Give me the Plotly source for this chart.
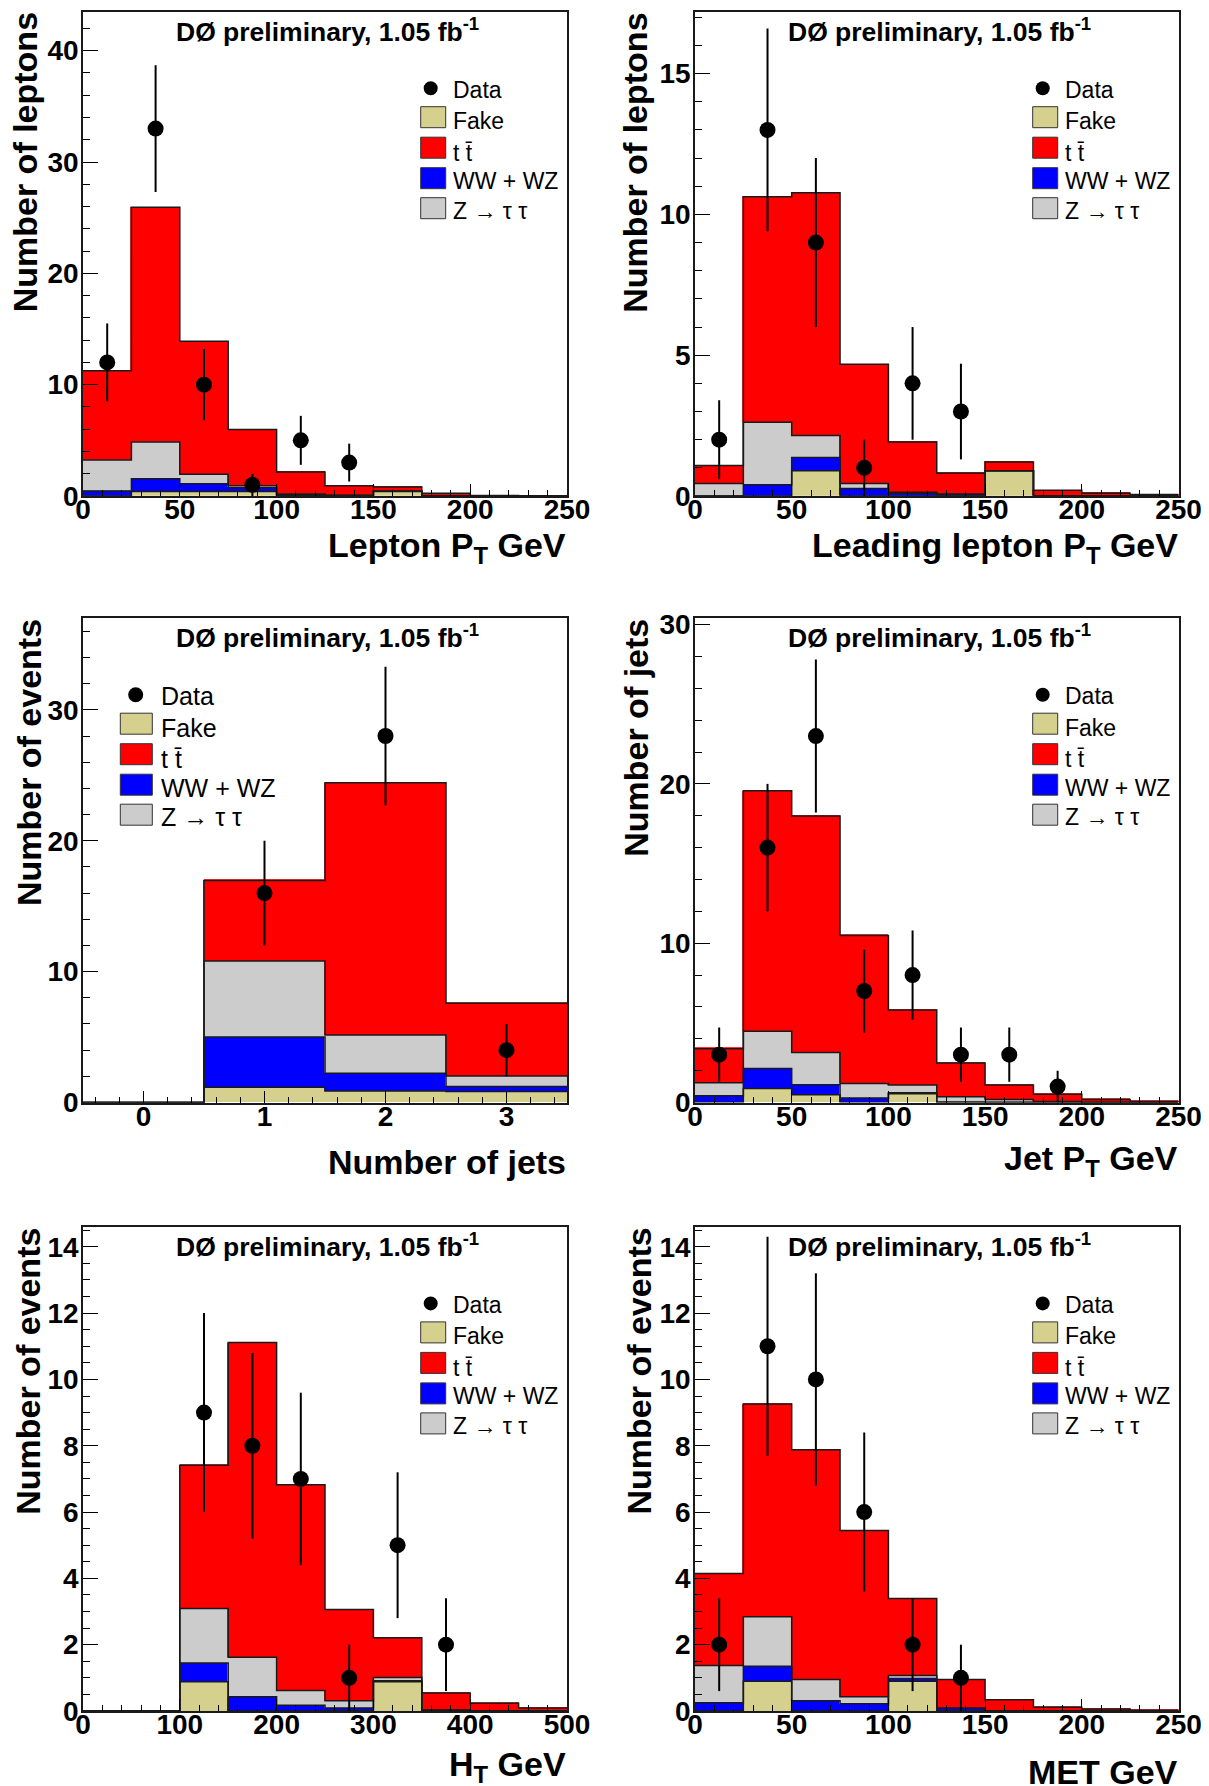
import numpy as np
import plotly.graph_objects as go

# ---------------- data ----------------
# Panel 1: lepton pT (25 GeV bins)
lep_edges = [0, 25, 50, 75, 100, 125, 150, 175, 200, 225, 250]
lep_fake  = [0.00, 0.41, 0.40, 0.40, 0.02, 0.00, 0.40, 0.00, 0.00, 0.00]
lep_ww    = [0.44, 1.13, 0.69, 0.35, 0.10, 0.05, 0.02, 0.01, 0.00, 0.00]
lep_ztt   = [2.80, 3.31, 0.86, 0.17, 0.05, 0.02, 0.02, 0.01, 0.00, 0.00]
lep_ttbar = [8.02, 21.09, 11.95, 5.05, 1.98, 0.85, 0.36, 0.22, 0.05, 0.02]
lep_data  = [12, 33, 10, 1, 5, 3, 0, 0, 0, 0]
lep_err   = [3.5, 5.7, 3.2, 1.0, 2.2, 1.7, 0, 0, 0, 0]

# Panel 2: leading lepton pT
lead_edges = [0, 25, 50, 75, 100, 125, 150, 175, 200, 225, 250]
lead_fake  = [0.00, 0.00, 0.90, 0.00, 0.00, 0.00, 0.90, 0.00, 0.00, 0.00]
lead_ww    = [0.00, 0.40, 0.47, 0.27, 0.10, 0.05, 0.00, 0.00, 0.00, 0.00]
lead_ztt   = [0.44, 2.22, 0.78, 0.17, 0.03, 0.02, 0.00, 0.00, 0.00, 0.00]
lead_ttbar = [0.64, 8.01, 8.62, 4.24, 1.79, 0.74, 0.31, 0.20, 0.10, 0.05]
lead_data  = [2, 13, 9, 1, 4, 3, 0, 0, 0, 0]
lead_err   = [1.4, 3.6, 3.0, 1.0, 2.0, 1.7, 0, 0, 0, 0]

# Panel 3: number of jets
nj_edges = [-0.5, 0.5, 1.5, 2.5, 3.5]
nj_fake  = [0.00, 1.16, 0.87, 0.84]
nj_ww    = [0.00, 3.85, 1.36, 0.38]
nj_ztt   = [0.00, 5.80, 2.93, 0.81]
nj_ttbar = [0.00, 6.15, 19.27, 5.56]
nj_data  = [0, 16, 28, 4]
nj_err   = [0, 4.0, 5.3, 2.0]

# Panel 4: jet pT
jet_edges = [0, 25, 50, 75, 100, 125, 150, 175, 200, 225, 250]
jet_fake  = [0.00, 0.88, 0.48, 0.00, 0.55, 0.00, 0.00, 0.00, 0.00, 0.00]
jet_ww    = [0.43, 1.26, 0.64, 0.29, 0.06, 0.03, 0.02, 0.01, 0.00, 0.00]
jet_ztt   = [0.81, 2.34, 2.02, 0.90, 0.49, 0.33, 0.17, 0.05, 0.00, 0.00]
jet_ttbar = [2.14, 15.09, 14.84, 9.29, 4.71, 2.12, 0.91, 0.46, 0.19, 0.07]
jet_data  = [3, 16, 23, 7, 8, 3, 3, 1, 0, 0]
jet_err   = [1.7, 4.0, 4.8, 2.6, 2.8, 1.7, 1.7, 1.0, 0, 0]

# Panel 5: HT (50 GeV bins)
ht_edges = [0, 50, 100, 150, 200, 250, 300, 350, 400, 450, 500]
ht_fake  = [0.00, 0.00, 0.88, 0.00, 0.00, 0.00, 0.88, 0.00, 0.00, 0.00]
ht_ww    = [0.00, 0.00, 0.57, 0.43, 0.17, 0.09, 0.03, 0.02, 0.00, 0.00]
ht_ztt   = [0.00, 0.00, 1.64, 1.19, 0.45, 0.22, 0.10, 0.01, 0.00, 0.00]
ht_ttbar = [0.00, 0.00, 4.32, 9.49, 6.20, 2.75, 1.20, 0.51, 0.23, 0.09]
ht_data  = [0, 0, 9, 8, 7, 1, 5, 2, 0, 0]
ht_err   = [0, 0, 3.0, 2.8, 2.6, 1.0, 2.2, 1.4, 0, 0]

# Panel 6: MET
met_edges = [0, 25, 50, 75, 100, 125, 150, 175, 200, 225, 250]
met_fake  = [0.00, 0.90, 0.00, 0.00, 0.90, 0.00, 0.00, 0.00, 0.00, 0.00]
met_ww    = [0.25, 0.45, 0.31, 0.22, 0.08, 0.08, 0.00, 0.00, 0.00, 0.00]
met_ztt   = [1.12, 1.49, 0.64, 0.21, 0.09, 0.00, 0.00, 0.00, 0.00, 0.00]
met_ttbar = [2.78, 6.42, 6.93, 5.01, 2.32, 0.87, 0.34, 0.11, 0.06, 0.02]
met_data  = [2, 11, 10, 6, 2, 1, 0, 0, 0, 0]
met_err   = [1.4, 3.3, 3.2, 2.4, 1.4, 1.0, 0, 0, 0, 0]

legend_labels = ["Data", "Fake", "t t\u0304", "WW + WZ", "Z \u2192 \u03c4 \u03c4"]
header_text = "D\u00d8 preliminary, 1.05 fb<sup>-1</sup>"

# ---------------- styling / layout ----------------
W, H = 1209, 1786          # page (screenshot) size
OFF = 8                    # default body margin of the html page
FW, FH = W - OFF, H - OFF  # figure size
FONT = "Liberation Sans"
COL_FAKE, COL_WW, COL_ZTT, COL_TT = "#d6d08e", "#0000ff", "#cccccc", "#ff0000"
STACK_COLORS = [COL_FAKE, COL_WW, COL_ZTT, COL_TT]        # bottom -> top
LEGEND_COLORS = [None, COL_FAKE, COL_TT, COL_WW, COL_ZTT]  # legend order
OUTLINE = "#1a1a1a"


def fx(p):
    """page pixel x -> paper fraction"""
    return (p - OFF) / FW


def fy(p):
    """page pixel y -> paper fraction"""
    return 1 - (p - OFF) / FH


panels = [
    dict(edges=lep_edges, comps=[lep_fake, lep_ww, lep_ztt, lep_ttbar], data=lep_data, err=lep_err,
         frame=(83, 567, 11.7, 496), xr=[0, 250], yr=[0, 43.5], xd=50, xm=10, yd=10, ym=2,
         xt="Lepton P<sub>T</sub> GeV", yt="Number of leptons", xcap=531, ycap=11.0, leg="right"),
    dict(edges=lead_edges, comps=[lead_fake, lead_ww, lead_ztt, lead_ttbar], data=lead_data, err=lead_err,
         frame=(695, 1178.5, 11.7, 496), xr=[0, 250], yr=[0, 17.2], xd=50, xm=10, yd=5, ym=1,
         xt="Leading lepton P<sub>T</sub> GeV", yt="Number of leptons", xcap=531, ycap=621.5, leg="right"),
    dict(edges=nj_edges, comps=[nj_fake, nj_ww, nj_ztt, nj_ttbar], data=nj_data, err=nj_err,
         frame=(83, 567, 618.2, 1102.5), xr=[-0.5, 3.5], yr=[0, 37.0], xd=1, xm=0.2, yd=10, ym=2,
         xt="Number of jets", yt="Number of events", xcap=1148, ycap=14.8, leg="left"),
    dict(edges=jet_edges, comps=[jet_fake, jet_ww, jet_ztt, jet_ttbar], data=jet_data, err=jet_err,
         frame=(695, 1178.5, 618.2, 1102.5), xr=[0, 250], yr=[0, 30.4], xd=50, xm=10, yd=10, ym=2,
         xt="Jet P<sub>T</sub> GeV", yt="Number of jets", xcap=1144.5, ycap=623, leg="right"),
    dict(edges=ht_edges, comps=[ht_fake, ht_ww, ht_ztt, ht_ttbar], data=ht_data, err=ht_err,
         frame=(83, 567, 1226.9, 1711), xr=[0, 500], yr=[0, 14.6], xd=100, xm=20, yd=2, ym=0.5,
         xt="H<sub>T</sub> GeV", yt="Number of events", xcap=1750.5, ycap=14.8, leg="right"),
    dict(edges=met_edges, comps=[met_fake, met_ww, met_ztt, met_ttbar], data=met_data, err=met_err,
         frame=(695, 1178.5, 1226.9, 1711), xr=[0, 250], yr=[0, 14.6], xd=50, xm=10, yd=2, ym=0.5,
         xt="MET GeV", yt="Number of events", xcap=1758, ycap=625.5, leg="right"),
]

fig = go.Figure()
annotations = []
shapes = []

tickfont = dict(family=FONT, size=28, color="black", weight="bold")

for i, p in enumerate(panels):
    n = i + 1
    xa = "x" if n == 1 else f"x{n}"
    ya = "y" if n == 1 else f"y{n}"
    x0, x1, y0, y1 = p["frame"]

    edges = np.array(p["edges"], float)
    centers = (edges[:-1] + edges[1:]) / 2
    widths = np.diff(edges)
    comps = [np.array(c, float) for c in p["comps"]]

    # stacked fills
    for comp, col in zip(comps, STACK_COLORS):
        lw = np.where(comp > 0, 0.8, 0.0)
        fig.add_trace(go.Bar(x=centers, y=comp, width=widths, xaxis=xa, yaxis=ya,
                             marker=dict(color=col, line=dict(color=col, width=lw)),
                             hoverinfo="skip", showlegend=False))
    # step outlines of the cumulative histograms
    cum = np.cumsum(np.vstack(comps), axis=0)
    for level in cum:
        fig.add_trace(go.Scatter(x=edges, y=np.append(level, level[-1]), mode="lines",
                                 line=dict(shape="hv", color=OUTLINE, width=1.5),
                                 xaxis=xa, yaxis=ya, hoverinfo="skip", showlegend=False))
    # data points
    data = np.array(p["data"], float)
    err = np.array(p["err"], float)
    m = data > 0
    fig.add_trace(go.Scatter(x=centers[m], y=data[m], mode="markers", xaxis=xa, yaxis=ya,
                             marker=dict(size=16, color="black"),
                             error_y=dict(type="data", array=err[m], visible=True,
                                          thickness=2, width=0, color="black"),
                             showlegend=False))

    common = dict(showline=True, mirror=True, linecolor=OUTLINE, linewidth=1.5,
                  showgrid=False, zeroline=False, ticks="inside", tickcolor="black",
                  tickwidth=1, tickfont=tickfont, automargin=False)
    xkey = "xaxis" if n == 1 else f"xaxis{n}"
    ykey = "yaxis" if n == 1 else f"yaxis{n}"
    fig.update_layout(**{
        xkey: dict(common, domain=[fx(x0), fx(x1)], range=p["xr"], anchor=ya,
                   tick0=0, dtick=p["xd"], ticklen=12, ticklabelstandoff=-12,
                   minor=dict(ticks="inside", ticklen=6, dtick=p["xm"], tick0=0,
                              tickcolor="black", tickwidth=1)),
        ykey: dict(common, domain=[fy(y1), fy(y0)], range=p["yr"], anchor=xa,
                   tick0=0, dtick=p["yd"], ticklen=15, ticklabelstandoff=-3,
                   minor=dict(ticks="inside", ticklen=7.5, dtick=p["ym"], tick0=0,
                              tickcolor="black", tickwidth=1)),
    })

    # header
    annotations.append(dict(xref="paper", yref="paper", x=fx(x0 + 91), y=fy(y0 + 37.2),
                            xanchor="left", yanchor="bottom", showarrow=False,
                            text=f"<b>{header_text}</b>",
                            font=dict(family=FONT, size=26.5, color="black")))
    # x title
    annotations.append(dict(xref="paper", yref="paper", x=fx(x1 + 1), y=fy(p["xcap"] - 7.4),
                            xanchor="right", yanchor="top", showarrow=False,
                            text=f"<b>{p['xt']}</b>",
                            font=dict(family=FONT, size=34, color="black")))
    # y title
    annotations.append(dict(xref="paper", yref="paper", x=fx(p["ycap"] - 7.4), y=fy(y0 - 1),
                            xanchor="left", yanchor="top", textangle=-90, showarrow=False,
                            text=f"<b>{p['yt']}</b>",
                            font=dict(family=FONT, size=34, color="black")))

    # legend (drawn by hand to mimic the ROOT TLegend)
    if p["leg"] == "right":
        bl, br, dxc, tl, lfs, r = x0 + 337.7, x0 + 362.7, x0 + 347.7, x0 + 368.7, 23, 7
    else:
        bl, br, dxc, tl, lfs, r = x0 + 37.3, x0 + 69.3, x0 + 52.7, x0 + 77, 25, 7.5
    rows = [76.5, 105.5, 136, 166.5, 196.5]
    toff = [1.5, 4, 5, 3, 2.5]
    for k, (lab, rc, to) in enumerate(zip(legend_labels, rows, toff)):
        cy = y0 + rc
        if k == 0:
            shapes.append(dict(type="circle", xref="paper", yref="paper",
                               x0=fx(dxc - r), x1=fx(dxc + r), y0=fy(cy + r), y1=fy(cy - r),
                               fillcolor="black", line=dict(width=0)))
        else:
            shapes.append(dict(type="rect", xref="paper", yref="paper",
                               x0=fx(bl), x1=fx(br), y0=fy(cy + 10.5), y1=fy(cy - 10.5),
                               fillcolor=LEGEND_COLORS[k], line=dict(color="#333333", width=1)))
        annotations.append(dict(xref="paper", yref="paper", x=fx(tl - 1), y=fy(cy + to),
                                xanchor="left", yanchor="middle", showarrow=False, text=lab,
                                font=dict(family=FONT, size=lfs, color="black")))

fig.update_layout(width=FW, height=FH,
                  margin=dict(l=0, r=0, t=0, b=0, pad=0, autoexpand=False),
                  paper_bgcolor="white", plot_bgcolor="white",
                  barmode="stack", bargap=0, showlegend=False,
                  annotations=annotations, shapes=shapes)

fig.write_html("out.html")
